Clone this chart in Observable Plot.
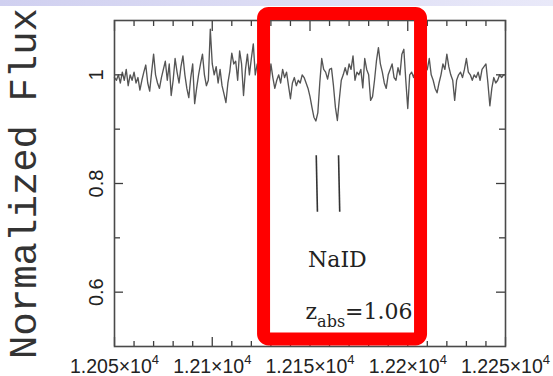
<!DOCTYPE html>
<html><head><meta charset="utf-8">
<script src="https://cdn.jsdelivr.net/npm/d3@7"></script>
<script src="https://cdn.jsdelivr.net/npm/@observablehq/plot@0.6"></script>
<style>
html,body{margin:0;padding:0;background:#fff;}
#chart svg{background:linear-gradient(to right,#d0d0f0,#e9e9f9) top left / 100% 6px no-repeat, #ffffff !important;}
</style></head><body><div id="chart"></div>
<script>
// Normalized flux, sampled every 1 Å from 12050 Å
const flux = [
  0.995, 0.99, 1.0, 0.985, 1.005, 0.99, 1.01, 0.98, 1.0, 0.99,
  1.005, 0.985, 0.995, 0.972, 0.99, 1.005, 1.018, 0.985, 0.97, 1.005,
  1.038, 1.0, 0.985, 0.975, 0.995, 1.01, 1.025, 0.99, 1.02, 0.962,
  0.99, 1.03, 1.005, 0.985, 1.015, 1.035, 1.0, 0.975, 0.958, 0.995,
  1.02, 0.947, 0.975, 1.0, 1.02, 1.038, 1.0, 0.98, 0.99, 1.084,
  1.02, 1.0, 1.015, 0.985, 1.01, 0.98, 0.965, 0.949, 0.985, 1.007,
  1.04, 1.02, 1.025, 0.99, 1.044, 1.02, 0.962, 1.01, 1.038, 1.0,
  1.03, 1.057, 1.0, 1.02, 0.99, 1.01, 0.985, 1.0, 1.015, 0.98,
  1.02, 0.995, 0.975, 0.99, 1.0, 0.985, 1.01, 0.995, 1.005, 0.98,
  0.956, 0.985, 0.995, 0.98, 0.99, 0.985, 1.0, 0.995, 0.985, 0.975,
  0.96, 0.94, 0.922, 0.915, 0.93, 0.985, 1.03, 1.01, 1.005, 0.992,
  1.01, 1.012, 0.98, 0.94, 0.916, 0.955, 0.99, 1.0, 1.013, 1.0,
  1.02, 1.01, 1.035, 0.99, 1.005, 1.0, 1.01, 0.976, 1.03, 1.01,
  1.0, 0.953, 0.96, 0.99, 1.026, 1.05, 1.02, 1.005, 0.985, 0.975,
  1.0, 1.01, 1.02, 0.995, 0.99, 1.013, 1.0, 1.038, 1.047, 0.99,
  0.938, 1.0, 1.005, 0.995, 1.01, 0.985, 1.0, 1.02, 0.99, 1.005,
  1.01, 1.03, 1.0, 0.99, 0.975, 0.967, 0.985, 1.0, 1.02, 1.01,
  1.038, 1.015, 1.0, 0.99, 0.953, 0.99, 1.0, 1.005, 0.995, 1.01,
  1.03, 1.005, 1.0, 0.99, 1.0, 0.995, 1.005, 0.99, 1.01, 1.015,
  1.02, 0.985, 0.943, 0.975, 0.995, 0.985, 0.99, 1.0, 0.995, 1.0,
  1.0
];
const wavelengthStart = 12050;
const wavelengthStep = 1;
const wavelength = flux.map((_, i) => wavelengthStart + i * wavelengthStep);

const xDomain = [12050, 12250];
const yDomain = [0.5, 1.1];
const xMajorTicks = [12050, 12100, 12150, 12200, 12250];
const xTickBase = ["1.205×10", "1.21×10", "1.215×10", "1.22×10", "1.225×10"];
const xTickExp = "4";
const xMinorTicks = [12060, 12070, 12080, 12090, 12110, 12120, 12130, 12140, 12160, 12170, 12180, 12190, 12210, 12220, 12230, 12240];
const yMajorTicks = [0.6, 0.8, 1.0];
const yTickLabels = ["0.6", "0.8", "1"];
const yMinorTicks = [0.7, 0.9];
const yTitle = "Normalized Flux";

// NaI D line markers (wavelength, flux extent)
const markerWave = [12153.5, 12164.9];
const markerTop = 0.852;
const markerBottom = 0.748;
const lineLabel = "NaID";
const lineLabelAt = [12164, 0.647];
const zLabelAt = [12147.7, 0.551];
const zParts = ["z", "abs", "=1.06"];
const highlight = [{x1: 12126.5, x2: 12206.8, y1: 0.513, y2: 1.112}];

const W = 553, H = 376, mL = 114, mR = 48, mT = 20, mB = 30;
const pW = W - mL - mR, pH = H - mT - mB;
const ink = "#3e3e3e";
const sans = "'Liberation Sans', Arial, sans-serif";
const serif = "'DejaVu Serif', serif";

const data = wavelength.map((w, i) => ({w, f: flux[i]}));
const markers = markerWave.map(w => ({w}));

const svg = Plot.plot({
  width: W, height: H,
  marginLeft: mL, marginRight: mR, marginTop: mT, marginBottom: mB,
  x: {domain: xDomain, axis: null},
  y: {domain: yDomain, axis: null},
  marks: [
    Plot.line(data, {x: "w", y: "f", stroke: "#555", strokeWidth: 1.35}),
    Plot.link(markers, {x1: d => d.w - 0.3, x2: d => d.w + 0.3, y1: markerTop, y2: markerBottom, stroke: "#333", strokeWidth: 1.6}),
    Plot.tickX(xMinorTicks, {x: d => d, insetTop: pH - 5, stroke: ink, strokeWidth: 1.3}),
    Plot.tickX(xMajorTicks, {x: d => d, insetTop: pH - 9, stroke: ink, strokeWidth: 1.3}),
    Plot.tickX(xMinorTicks, {x: d => d, insetBottom: pH - 6, stroke: ink, strokeWidth: 1.3}),
    Plot.tickX(xMajorTicks, {x: d => d, insetBottom: pH - 11, stroke: ink, strokeWidth: 1.3}),
    Plot.tickY(yMinorTicks, {y: d => d, insetRight: pW - 6, stroke: ink, strokeWidth: 1.3}),
    Plot.tickY(yMajorTicks, {y: d => d, insetRight: pW - 9, stroke: ink, strokeWidth: 1.3}),
    Plot.tickY(yMinorTicks, {y: d => d, insetLeft: pW - 6, stroke: ink, strokeWidth: 1.3}),
    Plot.tickY(yMajorTicks, {y: d => d, insetLeft: pW - 9, stroke: ink, strokeWidth: 1.3}),
    Plot.frame({stroke: "#4a4a4a", strokeWidth: 1.6}),
    Plot.text([yTitle], {frameAnchor: "left", dx: -79, dy: 0, rotate: -90, textAnchor: "middle", lineAnchor: "bottom", text: d => d,
      fontFamily: "'Liberation Mono', 'Courier New', monospace", fontSize: 39, fill: "#333"}),
    Plot.text(yMajorTicks, {y: d => d, frameAnchor: "left", dx: -12, rotate: -90, textAnchor: "middle", lineAnchor: "bottom",
      text: (d, i) => yTickLabels[i], fontFamily: sans, fontSize: 20, fill: "#222"}),
    Plot.text(xMajorTicks, {x: d => d, frameAnchor: "bottom", dy: 26, textAnchor: "middle", lineAnchor: "bottom",
      text: (d, i) => xTickBase[i], fontFamily: sans, fontSize: 19.5, fill: "#222"}),
    Plot.text([lineLabel], {x: lineLabelAt[0], y: lineLabelAt[1], textAnchor: "middle", lineAnchor: "bottom", text: d => d,
      fontFamily: serif, fontSize: 22, fill: "#222"}),
    Plot.text([zParts[0]], {x: zLabelAt[0], y: zLabelAt[1], textAnchor: "start", lineAnchor: "bottom", text: d => d,
      fontFamily: serif, fontSize: 22, fill: "#222"}),
    Plot.rect(highlight, {x1: "x1", x2: "x2", y1: "y1", y2: "y2", stroke: "#ff0000", strokeWidth: 13, fill: "none", rx: 5})
  ]
});

const textGroups = d3.select(svg).selectAll('g[aria-label="text"]').nodes();
// x tick labels: add superscript exponent
d3.select(textGroups[2]).selectAll("text").each(function() {
  d3.select(this).append("tspan").attr("dy", -9).attr("font-size", 13).text(xTickExp);
});
// z_abs label
d3.select(textGroups[4]).selectAll("text").each(function() {
  const t = d3.select(this);
  t.append("tspan").attr("dy", 8).attr("font-size", 16).text(zParts[1]);
  t.append("tspan").attr("dy", -8).text(zParts[2]);
});

document.getElementById("chart").appendChild(svg);
</script></body></html>
